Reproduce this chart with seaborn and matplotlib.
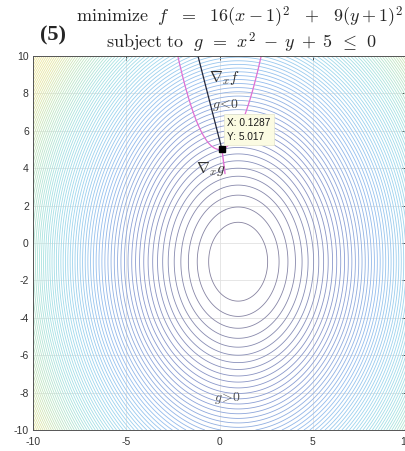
import numpy as np
import matplotlib
matplotlib.use('Agg')
import matplotlib.pyplot as plt
import seaborn as sns
from matplotlib.colors import LinearSegmentedColormap

# objective f = a*(x - xc)^2 + b*(y - yc)^2, constraint g = x^2 - y + c
f_coef = [16, 9]
f_center = [1, -1]
g_const = 5

# optimum point (data tip values)
x_opt = 0.1287
y_opt = 5.017

# contour levels
level_start = 40
level_step = 37
level_stop = 3030

# axis ticks
x_ticks = [-10, -5, 0, 5, 10]
y_ticks = [-10, -8, -6, -4, -2, 0, 2, 4, 6, 8, 10]

# washed-out parula-like colours as they appear in the picture
line_colors = ['#86829f', '#8a9ad0', '#94bdee', '#9ed6ee', '#a6e2e2',
               '#c0e6c4', '#e4e6a4', '#f2e8a0']

sns.set_style('white')
plt.rcParams['font.family'] = ['Liberation Sans', 'DejaVu Sans']
plt.rcParams['mathtext.fontset'] = 'cm'

W, H = 405, 451
fig = plt.figure(figsize=(W / 100, H / 100), dpi=100)
ax = fig.add_axes([33 / W, 21 / H, 373 / W, 374 / H])

# grid of the objective
gx = np.linspace(-10, 10, 401)
gy = np.linspace(-10, 10, 401)
X, Y = np.meshgrid(gx, gy)
Z = f_coef[0] * (X - f_center[0]) ** 2 + f_coef[1] * (Y - f_center[1]) ** 2

levels = np.arange(level_start, level_stop, level_step)
cmap = LinearSegmentedColormap.from_list('parula_faded', line_colors)
ax.contour(X, Y, Z, levels=levels, cmap=cmap, linewidths=0.6)

# constraint boundary g = 0
xs = np.linspace(-3, 3, 200)
sns.lineplot(x=xs, y=xs ** 2 + g_const, color='#e070d4', lw=0.9, ax=ax,
             sort=False)

# gradient of f at optimum (drawn up to the top edge)
gfx = 2 * f_coef[0] * (x_opt - f_center[0])
gfy = 2 * f_coef[1] * (y_opt - f_center[1])
t = (10.5 - y_opt) / gfy
sns.lineplot(x=[x_opt, x_opt + gfx * t], y=[y_opt, y_opt + gfy * t],
             color='#22263a', lw=0.9, ax=ax)

# gradient of g at optimum
ggx, ggy = 2 * x_opt, -1.0
norm = np.hypot(ggx, ggy)
g_len = 1.35
sns.lineplot(x=[x_opt, x_opt + ggx / norm * g_len * 0.5],
             y=[y_opt, y_opt + ggy / norm * g_len],
             color='#e070d4', lw=1.0, ax=ax)

ax.plot([x_opt], [y_opt], 's', color='black', markersize=5, zorder=5)

# data tip
ax.text(x_opt + 0.3, y_opt + 1.05, f'X: {x_opt}\nY: {y_opt}', fontsize=7.3,
        va='center', ha='left', linespacing=1.5, color='#1a1a1a',
        bbox=dict(boxstyle='square,pad=0.35', facecolor='#fbfbe2',
                  edgecolor='#e4e4cc', lw=0.5), zorder=6)

# labels inside the axes
ax.text(-0.55, 8.8, r'$\nabla_x f$', fontsize=11, va='center', ha='left',
        color='#333333')
ax.text(-0.4, 7.4, r'$g\!<\!0$', fontsize=10, va='center', ha='left',
        color='#444444')
ax.text(-1.25, 3.95, r'$\nabla_x g$', fontsize=11, va='center', ha='left',
        color='#333333')
ax.text(-0.3, -8.3, r'$g\!>\!0$', fontsize=10, va='center', ha='left',
        color='#555555')

ax.set_xlim(-10, 10)
ax.set_ylim(-10, 10)
ax.set_xticks(x_ticks)
ax.set_yticks(y_ticks)
ax.set_xticklabels([str(v) for v in x_ticks])
ax.set_yticklabels([str(v) for v in y_ticks])
ax.tick_params(direction='in', length=3, width=0.6, labelsize=7.5,
               colors='#333333', top=True, right=True)
ax.tick_params(axis='x', pad=5)
ax.tick_params(axis='y', pad=3)
ax.grid(True, color='#e2e2e2', lw=0.6)
ax.set_axisbelow(True)
for s in ax.spines.values():
    s.set_color('#555555')
    s.set_linewidth(0.7)

# title block
fig.text(40 / W, 1 - 40 / H, '(5)', fontsize=16, fontweight='bold',
         family='Liberation Serif', va='baseline', ha='left')
fig.text(76 / W, 1 - 23 / H,
         r'$\mathrm{minimize}\ \ f\;\;\,=\;\;\,16(x-1)^2\;\;\,+\;\;\,9(y+1)^2$',
         fontsize=13, va='baseline', ha='left')
fig.text(241 / W, 1 - 48 / H,
         r'$\mathrm{subject\ to}\ \ g\;\,=\;\,x^2\;-\;y\;+\;5\;\,\leq\;\,0$',
         fontsize=13, va='baseline', ha='center')

fig.savefig('out.png', dpi=100)
